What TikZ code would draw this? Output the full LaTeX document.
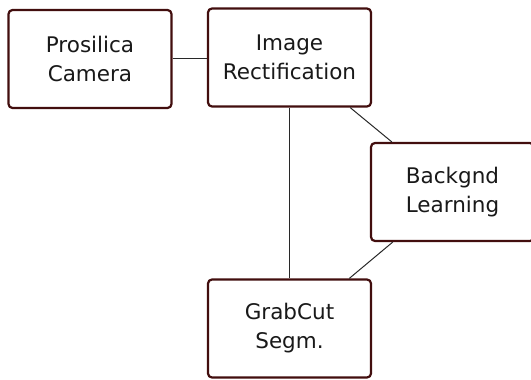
\documentclass[tikz,border=0pt]{standalone}
\usepackage{fontspec}
\setmainfont{DejaVu Sans}
\definecolor{boxline}{RGB}{66,14,14}
\definecolor{linkline}{RGB}{40,40,40}
\begin{document}
\begin{tikzpicture}[x=1pt,y=-1pt,
  stage/.style={draw=boxline, line width=2.2pt, rounded corners=4pt, fill=white,
    minimum width=163pt, minimum height=98pt, align=center, inner sep=0pt,
    font=\fontsize{21.5}{29}\selectfont, text=black!90},
  link/.style={draw=linkline, line width=1pt}]
  \useasboundingbox (0,0) rectangle (531,380);
  \node[stage] (cam)  at (90,59)      {Prosilica\\Camera};
  \node[stage] (rect) at (289.5,57.5) {Image\\Rectification};
  \node[stage] (bg)   at (452.5,192)  {Backgnd\\Learning};
  \node[stage] (gc)   at (289.5,328.5){GrabCut\\Segm.};
  \draw[link] (cam.east |- 0,58) -- (rect.west |- 0,58);
  \draw[link] (rect) -- (gc);
  \draw[link] (rect) -- (bg);
  \draw[link] (bg) -- (gc);
\end{tikzpicture}
\end{document}
